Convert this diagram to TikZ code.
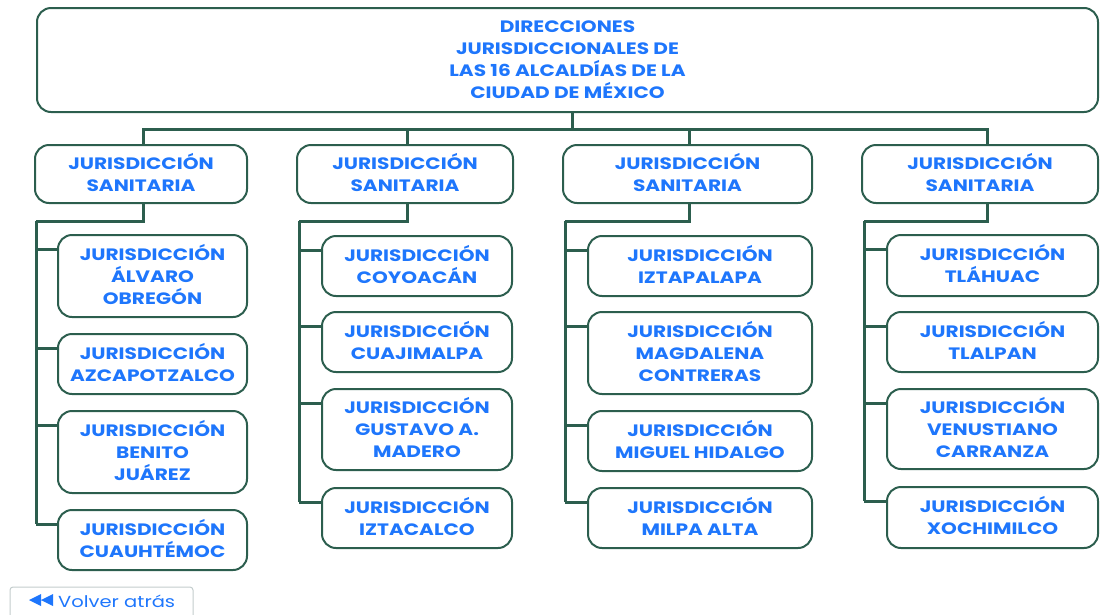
\documentclass[tikz,border=0pt]{standalone}
\usepackage{fontspec}
\setmainfont{Poppins}[FakeStretch=1.22]
\usetikzlibrary{calc,positioning}
\definecolor{jgreen}{RGB}{44,94,78}
\definecolor{jblue}{RGB}{30,118,252}
\definecolor{btngray}{RGB}{195,205,205}
\tikzset{
  box/.style={draw=jgreen,line width=2pt,rounded corners=14pt,align=center,text=jblue,
    font=\bfseries\fontsize{16.5}{22}\selectfont,inner sep=0pt},
  jbox/.style={box,execute at end node={\rule[-4pt]{0pt}{0pt}}},
  conn/.style={jgreen,line width=3pt},
}
\begin{document}
\begin{tikzpicture}[x=1pt,y=-1pt]
\clip (0,0) rectangle (1100,614);
\node[box,minimum width=1061pt,minimum height=104pt] (dir) at (567.5,60) {DIRECCIONES\\JURISDICCIONALES DE\\LAS 16 ALCALDÍAS DE LA\\CIUDAD DE MÉXICO};
% jurisdicciones sanitarias
\node[jbox,minimum width=212pt,minimum height=58pt] (s1) at (141,174) {JURISDICCIÓN\\SANITARIA};
\node[jbox,minimum width=216pt,minimum height=58pt] (s2) at (405,174) {JURISDICCIÓN\\SANITARIA};
\node[jbox,minimum width=249pt,minimum height=58pt] (s3) at (687.5,174) {JURISDICCIÓN\\SANITARIA};
\node[jbox,minimum width=236pt,minimum height=58pt] (s4) at (980,174) {JURISDICCIÓN\\SANITARIA};
% columna 1
\node[jbox,minimum width=189pt,minimum height=82pt] (a1) at (152.5,276) {JURISDICCIÓN\\ÁLVARO\\OBREGÓN};
\node[jbox,minimum width=189pt,minimum height=60pt] (a2) at (152.5,364) {JURISDICCIÓN\\AZCAPOTZALCO};
\node[jbox,minimum width=189pt,minimum height=82pt] (a3) at (152.5,452) {JURISDICCIÓN\\BENITO\\JUÁREZ};
\node[jbox,minimum width=189pt,minimum height=60pt] (a4) at (152.5,540) {JURISDICCIÓN\\CUAUHTÉMOC};
% columna 2
\node[jbox,minimum width=190pt,minimum height=60pt] (b1) at (417,266) {JURISDICCIÓN\\COYOACÁN};
\node[jbox,minimum width=190pt,minimum height=60pt] (b2) at (417,342) {JURISDICCIÓN\\CUAJIMALPA};
\node[jbox,minimum width=190pt,minimum height=81pt] (b3) at (417,429.5) {JURISDICCIÓN\\GUSTAVO A.\\MADERO};
\node[jbox,minimum width=190pt,minimum height=60pt] (b4) at (417,518) {JURISDICCIÓN\\IZTACALCO};
% columna 3
\node[jbox,minimum width=224pt,minimum height=60pt] (c1) at (700,266) {JURISDICCIÓN\\IZTAPALAPA};
\node[jbox,minimum width=224pt,minimum height=82pt] (c2) at (700,353) {JURISDICCIÓN\\MAGDALENA\\CONTRERAS};
\node[jbox,minimum width=224pt,minimum height=60pt] (c3) at (700,441) {JURISDICCIÓN\\MIGUEL HIDALGO};
\node[jbox,minimum width=224pt,minimum height=60pt] (c4) at (700,518) {JURISDICCIÓN\\MILPA ALTA};
% columna 4
\node[jbox,minimum width=211pt,minimum height=61pt] (d1) at (992.5,265.5) {JURISDICCIÓN\\TLÁHUAC};
\node[jbox,minimum width=211pt,minimum height=60pt] (d2) at (992.5,342) {JURISDICCIÓN\\TLALPAN};
\node[jbox,minimum width=211pt,minimum height=80pt] (d3) at (992.5,429) {JURISDICCIÓN\\VENUSTIANO\\CARRANZA};
\node[jbox,minimum width=211pt,minimum height=61pt] (d4) at (992.5,517.5) {JURISDICCIÓN\\XOCHIMILCO};
% conectores
\coordinate (hub) at (572,129);
\draw[conn] (dir.south -| hub) -- (hub);
\draw[conn] (s1.north -| 143,0) |- (hub) -| (s4.north -| 987,0);
\draw[conn] (hub) -| (s2.north -| 407,0);
\draw[conn] (hub) -| (s3.north -| 689,0);
\coordinate (k1) at (36,221);
\coordinate (k2) at (299,221);
\coordinate (k3) at (565,221);
\coordinate (k4) at (864,221);
\draw[conn] (s1.south -| 143,0) |- (k1);
\draw[conn] (s2.south -| 407,0) |- (k2);
\draw[conn] (s3.south -| 689,0) |- (k3);
\draw[conn] (s4.south -| 987,0) |- (k4);
\foreach \k/\col in {k1/a,k2/b,k3/c,k4/d}{
  \foreach \i in {1,...,4}
    \path (\col\i.north west) ++(0,15) coordinate (\col\i s);
  \draw[conn] (\k) -- (\k |- \col4s);
  \foreach \i in {1,...,4}
    \draw[conn] (\k |- \col\i s) -- (\col\i s);
}
% boton
\draw[btngray,line width=1pt,rounded corners=3pt] (10,587) rectangle (193,630);
\node[text=jblue,font=\fontsize{16}{18}\selectfont,anchor=base west,inner sep=0pt] (back) at (58,607) {Volver atrás};
\fill[jblue] (29,600) -- (41,594) -- (41,606) -- cycle (41,600) -- (53,594) -- (53,606) -- cycle;
\end{tikzpicture}
\end{document}
